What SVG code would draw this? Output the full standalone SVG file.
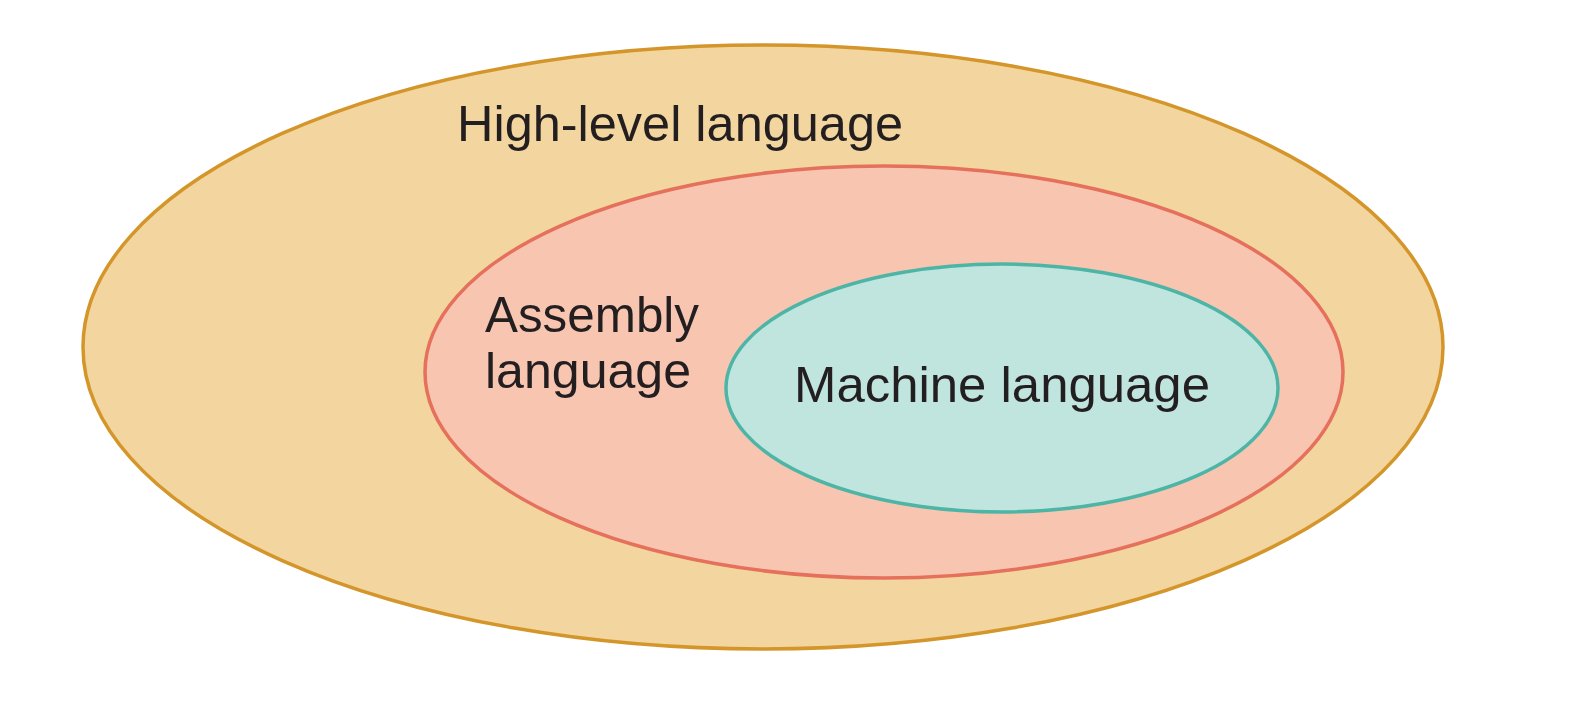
<svg xmlns="http://www.w3.org/2000/svg" width="1576" height="720" viewBox="0 0 1576 720">
<style>
.lbl{font-family:"Liberation Sans",Arial,sans-serif;font-size:50px;fill:#231f20}
</style>
<rect width="1576" height="720" fill="#ffffff"/>
<g id="high-level">
<ellipse cx="763" cy="347" rx="680" ry="302" fill="#f3d59f" stroke="#d4962a" stroke-width="3.5"/>
<text class="lbl" x="457" y="141" textLength="446" lengthAdjust="spacingAndGlyphs">High-level language</text>
</g>
<g id="assembly">
<ellipse cx="884" cy="372" rx="459" ry="206" fill="#f8c5b1" stroke="#e5705b" stroke-width="3.5"/>
<text class="lbl" x="485" y="332" textLength="214" lengthAdjust="spacingAndGlyphs">Assembly</text>
<text class="lbl" x="485" y="388" textLength="206" lengthAdjust="spacingAndGlyphs">language</text>
</g>
<g id="machine">
<ellipse cx="1002" cy="388" rx="276" ry="124" fill="#bfe5de" stroke="#4db5a6" stroke-width="3.5"/>
<text class="lbl" x="794" y="402" textLength="416" lengthAdjust="spacingAndGlyphs">Machine language</text>
</g>
<g id="connectors"></g>
</svg>
